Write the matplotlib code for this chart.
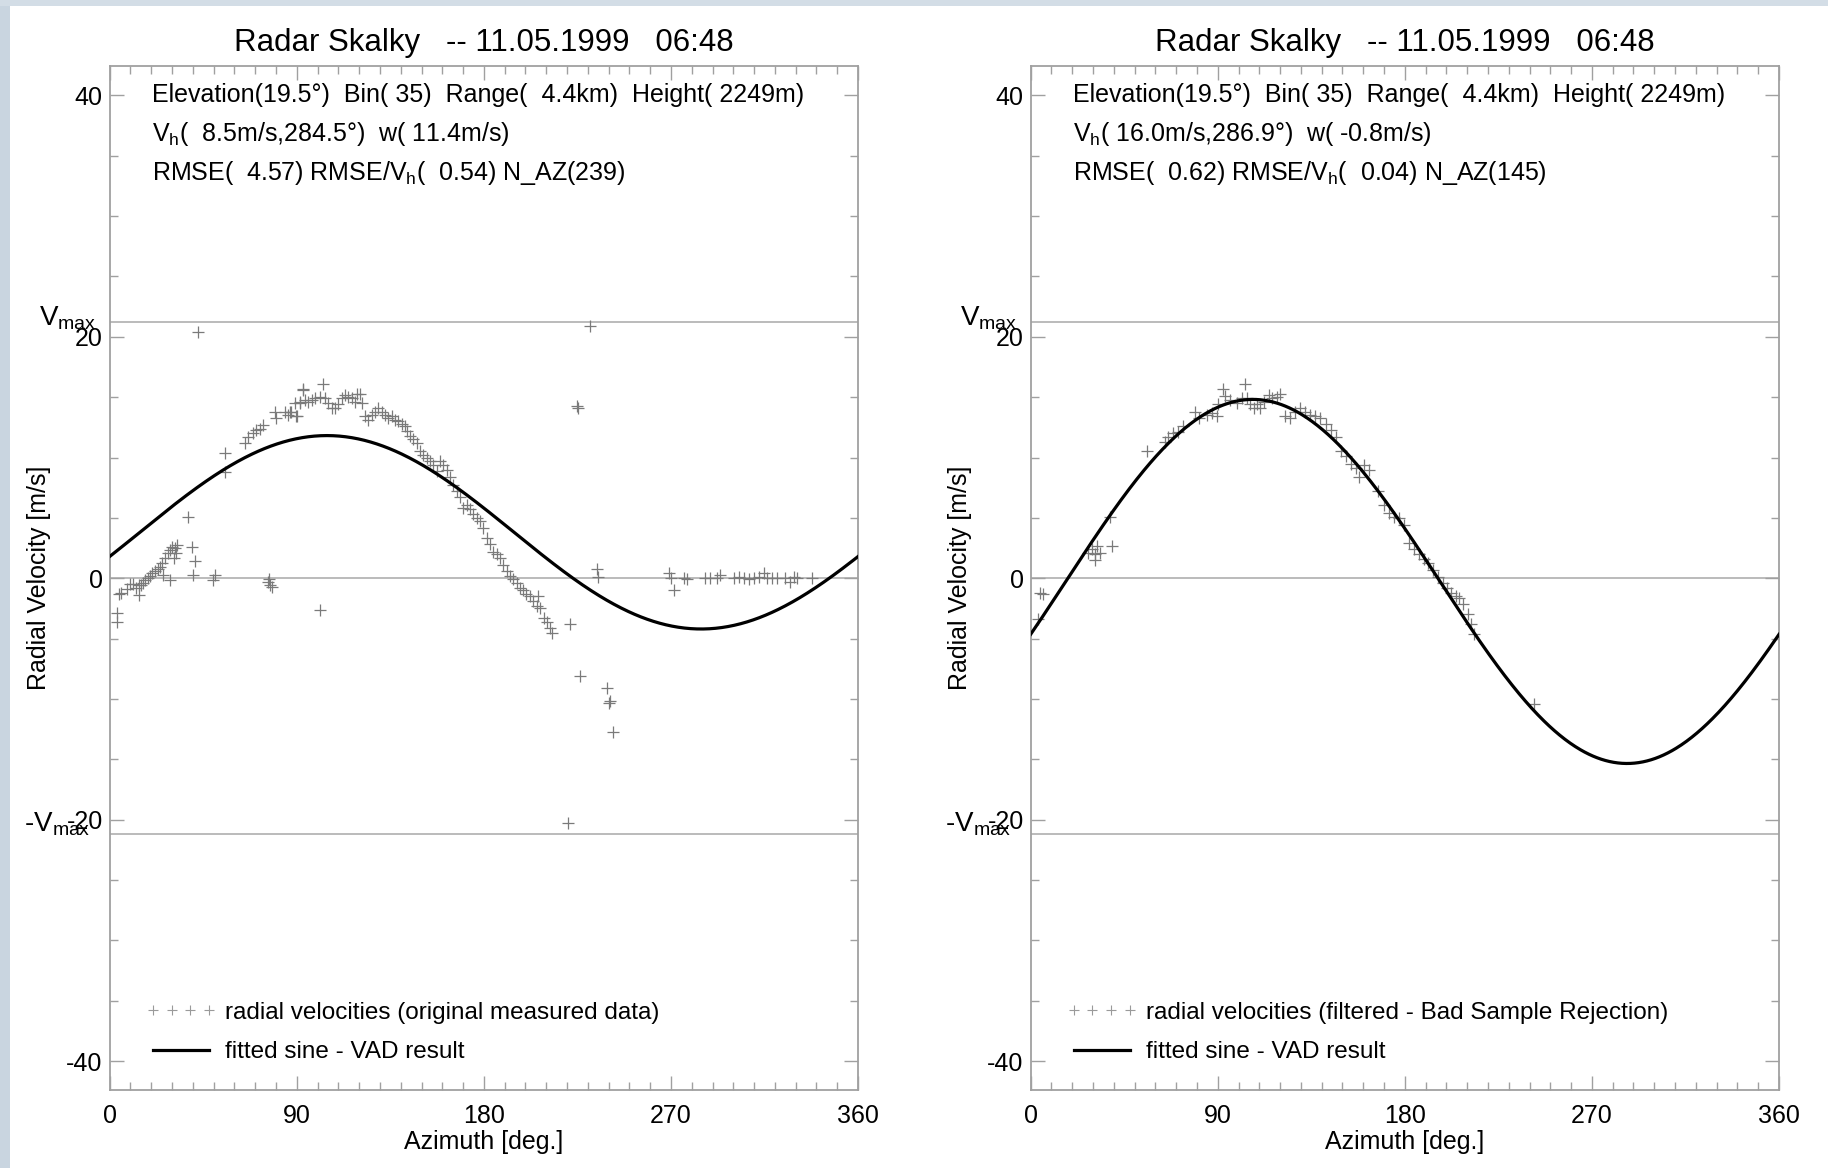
import numpy as np
import matplotlib
matplotlib.use("Agg")
import matplotlib.pyplot as plt
from matplotlib.lines import Line2D
from matplotlib.patches import Rectangle
from matplotlib.ticker import MultipleLocator, FixedLocator

plt.rcParams['font.family'] = ['Liberation Sans', 'DejaVu Sans']
plt.rcParams['mathtext.fontset'] = 'custom'
plt.rcParams['mathtext.rm'] = 'Liberation Sans'
plt.rcParams['mathtext.it'] = 'Liberation Sans'
plt.rcParams['axes.unicode_minus'] = False

# ---------------- data ----------------
title_text = "Radar Skalky   -- 11.05.1999   06:48"
elevation_deg = 19.5
v_max = 21.2

# left panel: original measured radial velocities
az_orig = [3.4, 3.7, 4.6, 5.4, 8.5, 9.8, 11.1, 12.7, 13.9, 13.9, 15.1, 16.2, 17.0, 18.3, 19.4,
           20.5, 21.9, 23.1, 24.2, 25.4, 25.8, 26.7, 27.9, 29.1, 29.1, 29.9, 30.7, 31.2, 31.8, 32.2,
           37.9, 39.8, 40.3, 41.1, 42.4, 49.9, 50.7, 55.5, 55.5, 65.1, 66.7, 69.0, 70.6, 72.2, 73.8,
           76.3, 76.8, 77.1, 77.9, 79.4, 80.2, 84.2, 85.8, 86.8, 87.4, 89.0, 89.8, 90.0, 91.4, 91.6,
           93.0, 93.2, 94.0, 95.6, 97.2, 98.8, 101.2, 101.2, 102.8, 103.6, 105.2, 106.8, 108.4, 110.0, 111.6,
           113.2, 114.8, 116.4, 118.0, 118.8, 120.4, 121.2, 122.8, 124.4, 126.0, 127.6, 129.2, 130.8, 132.4, 134.0,
           135.6, 137.2, 138.8, 140.4, 142.0, 142.8, 144.4, 146.0, 147.6, 149.2, 150.8, 152.5, 154.1, 155.7, 157.3,
           158.9, 160.5, 162.1, 163.7, 165.3, 166.9, 168.5, 170.1, 171.7, 173.3, 174.9, 176.5, 178.1, 179.7, 181.3,
           182.9, 184.5, 186.1, 187.7, 189.3, 190.9, 192.5, 194.1, 195.7, 197.3, 198.9, 200.5, 202.2, 203.8, 205.4,
           206.2, 207.1, 208.7, 210.3, 211.9, 212.7, 220.7, 221.5, 224.7, 225.5, 226.3, 231.1, 234.3, 235.1, 239.2,
           240.1, 240.9, 242.2, 269.0, 269.8, 271.4, 276.2, 277.8, 286.6, 289.0, 292.2, 293.8, 300.2, 302.6, 305.0,
           307.4, 309.8, 312.2, 314.6, 316.2, 318.6, 321.0, 325.0, 327.4, 329.0, 330.6, 337.8]
vr_orig = [-2.9, -3.6, -1.3, -1.2, -0.9, -0.5, -0.5, -0.8, -1.4, -0.6, -0.55, -0.41, -0.14, 0.05, 0.22,
           0.4, 0.6, 0.8, 0.96, 1.24, 0.28, 1.65, 2.07, 2.3, -0.14, 2.6, 1.65, 2.5, 2.1, 2.76,
           5.1, 2.6, 0.28, 1.4, 20.4, -0.14, 0.28, 10.35, 8.8, 11.2, 11.7, 12.0, 12.3, 12.4, 12.7,
           -0.28, -0.1, -0.55, -0.7, 13.8, 13.3, 13.8, 13.5, 13.8, 13.8, 14.5, 13.4, 13.4, 14.6, 14.5,
           15.6, 15.7, 14.8, 14.6, 14.8, 14.9, 15.0, -2.6, 16.1, 14.9, 14.5, 14.1, 14.1, 14.4, 14.9,
           15.2, 15.0, 14.9, 14.6, 15.3, 15.3, 14.5, 13.4, 13.1, 13.5, 13.8, 14.1, 13.8, 13.5, 13.3,
           13.4, 13.1, 13.0, 12.8, 12.6, 12.2, 11.8, 11.5, 11.2, 10.5, 10.2, 10.0, 9.7, 9.4, 8.9,
           9.7, 9.4, 9.0, 8.4, 7.7, 7.2, 6.7, 5.8, 6.1, 5.7, 5.3, 5.0, 4.7, 4.2, 3.3,
           2.8, 2.2, 2.0, 1.7, 1.1, 0.6, 0.2, -0.08, -0.36, -0.8, -1.0, -1.3, -1.5, -1.9, -2.3,
           -1.5, -2.5, -3.3, -3.6, -4.1, -4.5, -20.3, -3.8, 14.3, 14.1, -8.1, 20.9, 0.8, 0.1, -9.1,
           -10.3, -10.2, -12.7, 0.4, 0.0, -0.97, 0.0, -0.1, 0.0, 0.0, 0.0, 0.27, 0.0, 0.14, 0.0,
           -0.1, 0.0, 0.14, 0.4, 0.0, 0.0, 0.0, 0.0, -0.3, 0.14, 0.0, 0.0]

# right panel: filtered radial velocities (bad sample rejection)
az_filt = [3.7, 4.5, 6.1, 27.8, 29.4, 30.9, 30.9, 31.8, 33.4, 38.2, 39.0, 55.8, 64.6, 66.3, 68.7,
           71.1, 73.5, 79.1, 80.8, 84.8, 87.2, 89.6, 90.3, 92.7, 93.6, 96.0, 99.3, 101.7, 103.3, 104.1,
           105.7, 107.3, 108.9, 110.5, 112.1, 114.5, 116.1, 118.5, 120.0, 122.4, 124.9, 127.3, 129.7, 132.1, 134.6,
           137.0, 139.4, 141.9, 144.3, 146.7, 149.1, 151.6, 154.0, 156.5, 158.1, 160.5, 162.9, 166.9, 170.1, 172.5,
           174.9, 177.3, 179.8, 182.2, 184.6, 187.0, 189.4, 191.0, 193.5, 196.0, 198.5, 200.5, 202.3, 204.7, 206.3,
           207.9, 210.3, 211.9, 213.5, 242.2]
vr_filt = [-3.4, -1.2, -1.3, 2.1, 2.4, 2.0, 1.55, 2.7, 2.1, 5.1, 2.7, 10.5, 11.3, 11.7, 12.0,
           12.1, 12.6, 13.8, 13.3, 13.5, 13.7, 13.4, 14.4, 15.7, 15.1, 14.8, 14.5, 14.9, 16.1, 14.9,
           14.4, 14.1, 14.4, 14.1, 14.6, 15.2, 14.9, 15.0, 15.3, 13.4, 13.3, 13.8, 14.1, 13.8, 13.5,
           13.4, 13.3, 12.8, 12.3, 11.7, 10.5, 10.1, 9.5, 9.1, 8.4, 9.4, 9.0, 7.2, 6.1, 5.4,
           5.1, 5.0, 4.4, 2.9, 2.4, 2.0, 1.6, 1.3, 0.7, 0.1, -0.4, -0.8, -1.2, -1.5, -1.6,
           -2.1, -3.0, -3.8, -4.6, -10.4]

# VAD fit results (as printed on the chart)
panels = [
    dict(az=az_orig, vr=vr_orig, vh=8.5, wdir=284.5, w=11.4,
         info=["Elevation(19.5°)  Bin( 35)  Range(  4.4km)  Height( 2249m)",
               r"$\mathrm{V_h}$(  8.5m/s,284.5°)  w( 11.4m/s)",
               r"RMSE(  4.57) RMSE/$\mathrm{V_h}$(  0.54) N_AZ(239)"],
         legend="radial velocities (original measured data)"),
    dict(az=az_filt, vr=vr_filt, vh=16.0, wdir=286.9, w=-0.8,
         info=["Elevation(19.5°)  Bin( 35)  Range(  4.4km)  Height( 2249m)",
               r"$\mathrm{V_h}$( 16.0m/s,286.9°)  w( -0.8m/s)",
               r"RMSE(  0.62) RMSE/$\mathrm{V_h}$(  0.04) N_AZ(145)"],
         legend="radial velocities (filtered - Bad Sample Rejection)"),
]
x_ticks = [0, 90, 180, 270, 360]
y_ticks = [-40, -20, 0, 20, 40]

# ---------------- figure ----------------
fig = plt.figure(figsize=(18.28, 11.68), dpi=100)
fig.patch.set_facecolor('white')
fig.patches.append(Rectangle((0, 0), 10 / 1828, 1, transform=fig.transFigure,
                             facecolor='#c9d5e0', edgecolor='none', zorder=-5))
fig.patches.append(Rectangle((0, 1 - 6 / 1168), 1, 6 / 1168, transform=fig.transFigure,
                             facecolor='#d3dde6', edgecolor='none', zorder=-5))

axes_left = [0.0600, 0.5638]
frame_col = '#a0a0a0'
FS = 18

el = np.radians(elevation_deg)
az_curve = np.linspace(0, 360, 721)

for left, p in zip(axes_left, panels):
    ax = fig.add_axes([left, 0.0668, 0.4094, 0.8763])
    ax.set_xlim(0, 360)
    ax.set_ylim(-2 * v_max, 2 * v_max)

    for yy in (0, v_max, -v_max):
        ax.axhline(yy, color='#a8a8a8', lw=1.1, zorder=1)

    ax.plot(p['az'], p['vr'], ls='none', marker='+', ms=8, mew=0.9,
            color='#7a7a7a', zorder=2)
    v_curve = p['w'] * np.sin(el) + p['vh'] * np.cos(el) * np.cos(np.radians(az_curve - (p['wdir'] - 180)))
    ax.plot(az_curve, v_curve, color='black', lw=2.3, zorder=3)

    ax.set_title(title_text, fontsize=22.5, pad=11)
    ax.xaxis.set_major_locator(FixedLocator(x_ticks))
    ax.xaxis.set_minor_locator(MultipleLocator(10))
    ax.yaxis.set_major_locator(FixedLocator(y_ticks))
    ax.yaxis.set_minor_locator(MultipleLocator(5))
    ax.tick_params(which='both', direction='in', top=True, right=True,
                   color=frame_col, width=1.0)
    ax.tick_params(which='major', length=10, labelsize=FS)
    ax.tick_params(which='minor', length=6)
    ax.tick_params(axis='x', pad=10)
    ax.tick_params(axis='y', pad=5)
    for s in ax.spines.values():
        s.set_color(frame_col)
        s.set_linewidth(1.3)

    ax.set_xlabel("Azimuth [deg.]", fontsize=FS)
    ax.xaxis.set_label_coords(0.5, -0.039)
    ax.set_ylabel("Radial Velocity [m/s]", fontsize=FS)
    ax.yaxis.set_label_coords(-0.079, 0.5)

    trans = ax.get_yaxis_transform()
    ax.text(-0.018, v_max - 0.3, r"$\mathrm{V_{max}}$", transform=trans,
            ha='right', va='baseline', fontsize=FS + 2)
    ax.text(-0.026, -v_max + 0.2, r"-$\mathrm{V_{max}}$", transform=trans,
            ha='right', va='baseline', fontsize=FS + 2)

    for i, line in enumerate(p['info']):
        ax.text(0.056, 40 - 3.2 * i, line, transform=trans,
                ha='left', va='center', fontsize=FS)

    h1 = Line2D([], [], ls='none', marker='+', ms=7, mew=0.8, color='#9a9a9a')
    h2 = Line2D([], [], color='black', lw=2.3)
    ax.legend([h1, h2], [p['legend'], "fitted sine - VAD result"],
              loc='lower left', bbox_to_anchor=(0.048, 0.026), frameon=False,
              fontsize=FS - 0.5, numpoints=4, handlelength=2.9, handletextpad=0.35,
              labelspacing=0.72, borderpad=0, borderaxespad=0)

fig.savefig("out.png", dpi=100)
